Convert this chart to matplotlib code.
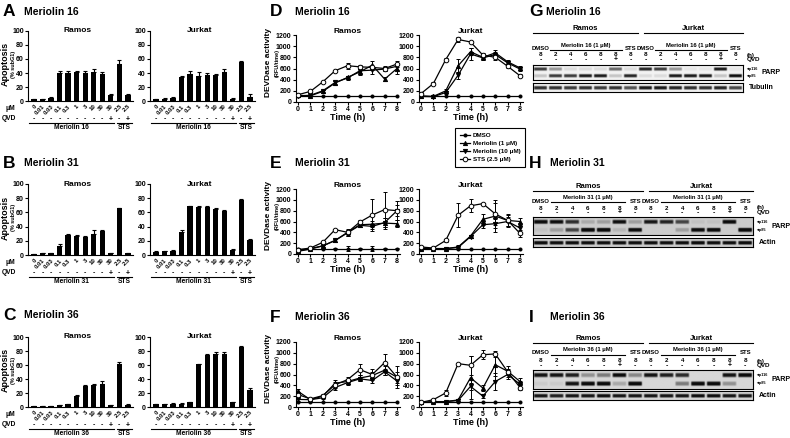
import numpy as np
import matplotlib.pyplot as plt

plt.rcParams['font.family'] = ['Liberation Sans', 'DejaVu Sans']
plt.rcParams['font.weight'] = 'bold'
plt.rcParams['axes.linewidth'] = 0.8
plt.rcParams['axes.labelweight'] = 'bold'

# ---- bar charts: apoptosis (% subG1) ----
conc = ['0', '0.01', '0.03', '0.1', '0.3', '1', '3', '10', '30', '30', '2.5', '2.5']
qvd_bar = ['-', '-', '-', '-', '-', '-', '-', '-', '-', '+', '-', '+']

ramos16 = [3, 3, 5, 39.5, 40.5, 41, 40, 41, 38.5, 9, 53, 9]
ramos16_err = [0.5, 0.5, 0.7, 3, 2.5, 2.5, 2.5, 5, 3, 1, 5, 1]
jurkat16 = [2.5, 3, 4.5, 34, 38.5, 36, 37, 37, 41, 3, 56, 5.5]
jurkat16_err = [0.7, 0.7, 1.5, 1.5, 5, 5, 3, 2, 5, 1, 1, 4]
ramos31 = [1, 2.5, 2.5, 13, 28, 27, 25.5, 29, 34, 2.5, 66, 3]
ramos31_err = [0.3, 0.5, 0.5, 2, 1, 1.5, 1, 6, 1, 0.5, 0.5, 0.5]
jurkat31 = [4.5, 5.5, 6, 33, 68.5, 68, 67, 65, 61.5, 7, 78, 21]
jurkat31_err = [0.5, 0.5, 0.5, 2.5, 1, 1.5, 1.5, 1.5, 2.5, 1.5, 1, 1]
ramos36 = [1.5, 1.5, 1, 3, 4, 16, 30, 31.5, 33, 2.5, 62, 3.5]
ramos36_err = [0.3, 0.3, 0.3, 0.5, 0.5, 1, 1, 1, 4, 0.3, 3, 1]
jurkat36 = [4.5, 4.5, 5, 5, 7, 61, 75, 75.5, 76, 6.5, 86, 25]
jurkat36_err = [0.5, 0.5, 0.5, 0.5, 0.5, 1, 1, 3, 2, 0.7, 1.5, 2]

# ---- line charts: DEVDase activity ----
hours = [0, 1, 2, 3, 4, 5, 6, 7, 8]

d_ramos_dmso = [100, 100, 100, 100, 100, 100, 100, 100, 100]
d_ramos_m1 = [120, 110, 190, 340, 440, 540, 660, 410, 600]
d_ramos_m10 = [110, 120, 200, 350, 430, 560, 570, 590, 640]
d_ramos_sts = [130, 190, 360, 560, 650, 630, 620, 600, 680]
d_ramos_m1_err = [20, 20, 20, 30, 30, 50, 80, 30, 90]
d_ramos_m10_err = [20, 20, 20, 20, 30, 40, 60, 40, 60]
d_ramos_sts_err = [20, 20, 20, 20, 50, 40, 30, 40, 50]

d_jurkat_dmso = [100, 100, 100, 100, 100, 100, 100, 100, 100]
d_jurkat_m1 = [110, 100, 200, 650, 900, 800, 880, 720, 610]
d_jurkat_m10 = [100, 95, 170, 480, 860, 790, 850, 700, 590]
d_jurkat_sts = [150, 330, 760, 1120, 1075, 840, 800, 640, 470]
d_jurkat_m1_err = [20, 20, 30, 120, 60, 40, 60, 40, 40]
d_jurkat_m10_err = [20, 20, 30, 60, 100, 40, 50, 40, 40]
d_jurkat_sts_err = [30, 20, 20, 40, 20, 30, 40, 30, 30]

e_ramos_dmso = [100, 100, 100, 100, 100, 100, 100, 100, 100]
e_ramos_dmso_err = [10, 10, 10, 10, 50, 10, 50, 10, 10]
e_ramos_m1 = [50, 90, 150, 250, 400, 540, 550, 570, 560]
e_ramos_m10 = [60, 100, 150, 250, 390, 530, 510, 580, 800]
e_ramos_sts = [80, 110, 215, 450, 400, 590, 720, 820, 800]
e_ramos_m1_err = [20, 20, 20, 20, 60, 40, 60, 100, 60]
e_ramos_m10_err = [20, 20, 20, 20, 60, 40, 40, 80, 100]
e_ramos_sts_err = [20, 20, 30, 20, 40, 30, 300, 320, 170]

e_jurkat_dmso = [100, 100, 100, 100, 100, 100, 100, 100, 100]
e_jurkat_m1 = [100, 100, 100, 130, 330, 640, 700, 620, 600]
e_jurkat_m10 = [100, 100, 100, 120, 320, 540, 560, 600, 480]
e_jurkat_sts = [130, 110, 250, 715, 890, 930, 740, 620, 380]
e_jurkat_m1_err = [20, 20, 20, 30, 30, 100, 300, 120, 60]
e_jurkat_m10_err = [20, 20, 20, 20, 30, 60, 80, 80, 100]
e_jurkat_sts_err = [20, 20, 20, 220, 120, 20, 200, 100, 60]

f_ramos_dmso = [100, 100, 100, 100, 100, 100, 100, 100, 100]
f_ramos_m1 = [290, 135, 200, 440, 470, 535, 580, 680, 550]
f_ramos_m10 = [140, 135, 170, 360, 450, 520, 490, 650, 480]
f_ramos_sts = [230, 150, 210, 410, 505, 690, 600, 820, 550]
f_ramos_m1_err = [50, 20, 30, 60, 40, 60, 60, 80, 100]
f_ramos_m10_err = [30, 20, 30, 40, 40, 40, 50, 60, 80]
f_ramos_sts_err = [50, 20, 30, 60, 40, 100, 100, 150, 200]

f_jurkat_dmso = [100, 100, 100, 100, 100, 100, 100, 100, 100]
f_jurkat_m1 = [85, 100, 100, 130, 540, 350, 780, 660, 470]
f_jurkat_m10 = [80, 95, 100, 120, 380, 200, 470, 600, 420]
f_jurkat_sts = [85, 135, 260, 800, 770, 965, 980, 650, 360]
f_jurkat_m1_err = [20, 20, 20, 20, 400, 60, 200, 100, 60]
f_jurkat_m10_err = [20, 20, 20, 20, 60, 40, 150, 80, 60]
f_jurkat_sts_err = [20, 20, 50, 20, 170, 80, 60, 60, 40]

legend_labels = ['DMSO', 'Meriolin (1 \u03bcM)', 'Meriolin (10 \u03bcM)', 'STS (2.5 \u03bcM)']

# ---- western blots: band intensity per lane (0 = none, 1 = strong) ----
blot_hours = ['8', '2', '4', '6', '8', '8', '8', '8', '2', '4', '6', '8', '8', '8']
blot_qvd = ['-', '-', '-', '-', '-', '+', '-', '-', '-', '-', '-', '-', '+', '-']

g_p116 = [0.8, 0.4, 0.1, 0.1, 0.1, 0.6, 0.1, 0.9, 0.8, 0.4, 0.05, 0.05, 0.95, 0.05]
g_p85 = [0.2, 0.8, 0.8, 0.95, 0.95, 0.2, 0.9, 0.1, 0.1, 0.95, 0.95, 0.95, 0.2, 1.0]
g_load = [0.85, 0.85, 0.8, 0.85, 0.8, 0.85, 0.7, 0.95, 0.95, 0.9, 0.85, 0.85, 0.9, 0.75]
h_p116 = [0.9, 0.85, 0.7, 0.15, 0.2, 0.85, 0.2, 0.8, 0.75, 0.6, 0.05, 0.05, 0.9, 0.0]
h_p85 = [0.05, 0.2, 0.6, 1.0, 1.0, 0.1, 0.9, 0.0, 0.0, 0.2, 0.9, 0.95, 0.0, 1.0]
h_load = [0.9, 0.85, 0.85, 0.85, 0.85, 0.85, 0.85, 0.85, 0.85, 0.85, 0.9, 0.85, 0.85, 0.9]
i_p116 = [0.85, 0.85, 0.8, 0.3, 0.4, 0.9, 0.35, 0.85, 0.8, 0.75, 0.0, 0.0, 0.85, 0.95]
i_p85 = [0.05, 0.05, 0.85, 0.95, 0.95, 0.2, 0.95, 0.0, 0.0, 0.4, 0.95, 0.95, 0.3, 0.0]
i_load = [0.85, 0.8, 0.85, 0.85, 0.9, 0.85, 0.85, 0.85, 0.85, 0.85, 0.9, 0.9, 0.85, 0.85]

W, H = 790, 438
fig = plt.figure(figsize=(7.9, 4.38), dpi=100)


def rect(x0, y0, x1, y1):
    return [x0 / W, 1 - y1 / H, (x1 - x0) / W, (y1 - y0) / H]


def put(x, y, s, **kw):
    kw.setdefault('ha', 'left')
    kw.setdefault('va', 'center')
    fig.text(x / W, 1 - y / H, s, **kw)


def style(ax, fs=5):
    ax.spines['top'].set_visible(False)
    ax.spines['right'].set_visible(False)
    ax.tick_params(direction='out', length=2, width=0.8, labelsize=fs, pad=1)


# panel letters and headings
for letter, x, y, name, nx in [('A', 3, 12, 'Meriolin 16', 24), ('B', 3, 163, 'Meriolin 31', 24),
                               ('C', 3, 315, 'Meriolin 36', 24), ('D', 270, 12, 'Meriolin 16', 295),
                               ('E', 270, 163, 'Meriolin 31', 295), ('F', 270, 317, 'Meriolin 36', 295),
                               ('G', 529, 12, 'Meriolin 16', 546), ('H', 529, 163, 'Meriolin 31', 550),
                               ('I', 529, 317, 'Meriolin 36', 550)]:
    put(x, y, letter, fontsize=12.5)
    put(nx, y, name, fontsize=7.5)

# ---- bar panels ----
bar_sets = [(ramos16, ramos16_err, jurkat16, jurkat16_err, 'Meriolin 16', 31, 101),
            (ramos31, ramos31_err, jurkat31, jurkat31_err, 'Meriolin 31', 184, 255),
            (ramos36, ramos36_err, jurkat36, jurkat36_err, 'Meriolin 36', 337, 407)]
x = np.arange(len(conc))
for r, re, j, je, comp, top, bot in bar_sets:
    for k, (vals, errs, cell, x0, x1) in enumerate([(r, re, 'Ramos', 28, 133), (j, je, 'Jurkat', 150, 255)]):
        ax = fig.add_axes(rect(x0, top, x1, bot))
        ax.bar(x, vals, width=0.62, color='black')
        ax.errorbar(x, vals, yerr=[np.zeros(len(errs)), errs], fmt='none', ecolor='black',
                    elinewidth=0.8, capsize=1.3, capthick=0.8)
        ax.set_ylim(0, 100)
        ax.set_xlim(-0.7, 11.6)
        ax.set_yticks([0, 20, 40, 60, 80, 100])
        ax.set_xticks(x)
        ax.set_xticklabels(conc, rotation=45, ha='right', rotation_mode='anchor')
        style(ax)
        ax.tick_params(axis='x', length=0, labelsize=4.3, pad=2)
        ax.text(0.47, 1.0, cell, transform=ax.transAxes, ha='center', va='center', fontsize=6)
        tr = ax.get_xaxis_transform()
        hpx = bot - top
        for xi, s in zip(x, qvd_bar):
            ax.text(xi, -18 / hpx, s, transform=tr, ha='center', va='center', fontsize=5, clip_on=False)
        ax.plot([-0.6, 9.4], [-21.5 / hpx] * 2, transform=tr, color='black', lw=0.8, clip_on=False)
        ax.plot([9.7, 11.5], [-21.5 / hpx] * 2, transform=tr, color='black', lw=0.8, clip_on=False)
        ax.text(4.4, -26.5 / hpx, comp, transform=tr, ha='center', va='center', fontsize=4.8, clip_on=False)
        ax.text(10.6, -26.5 / hpx, 'STS', transform=tr, ha='center', va='center', fontsize=4.8, clip_on=False)
        if k == 0:
            put(2, bot + 18, 'QVD', fontsize=4.8)
            put(5, bot + 7, '\u03bcM', fontsize=4.8)
            put(5, (top + bot) / 2 - 2, 'Apoptosis', fontsize=6.5, rotation=90, ha='center')
            put(13, (top + bot) / 2 - 2, '(% subG1)', fontsize=4, rotation=90, ha='center')

# ---- line panels ----
line_sets = [
    ('Ramos', 35, 102, 295.5, 399.5, d_ramos_dmso, None, d_ramos_m1, d_ramos_m1_err, d_ramos_m10, d_ramos_m10_err, d_ramos_sts, d_ramos_sts_err),
    ('Jurkat', 35, 102, 418.5, 522.5, d_jurkat_dmso, None, d_jurkat_m1, d_jurkat_m1_err, d_jurkat_m10, d_jurkat_m10_err, d_jurkat_sts, d_jurkat_sts_err),
    ('Ramos', 189, 254, 295.5, 399.5, e_ramos_dmso, e_ramos_dmso_err, e_ramos_m1, e_ramos_m1_err, e_ramos_m10, e_ramos_m10_err, e_ramos_sts, e_ramos_sts_err),
    ('Jurkat', 189, 254, 418.5, 522.5, e_jurkat_dmso, None, e_jurkat_m1, e_jurkat_m1_err, e_jurkat_m10, e_jurkat_m10_err, e_jurkat_sts, e_jurkat_sts_err),
    ('Ramos', 342, 407, 295.5, 399.5, f_ramos_dmso, None, f_ramos_m1, f_ramos_m1_err, f_ramos_m10, f_ramos_m10_err, f_ramos_sts, f_ramos_sts_err),
    ('Jurkat', 342, 407, 418.5, 522.5, f_jurkat_dmso, None, f_jurkat_m1, f_jurkat_m1_err, f_jurkat_m10, f_jurkat_m10_err, f_jurkat_sts, f_jurkat_sts_err),
]
markers = [('o', 'black', 2.2), ('^', 'black', 3), ('v', 'black', 3), ('o', 'white', 3.3)]
handles = None
for cell, top, bot, x0, x1, dm, dme, m1, m1e, m10, m10e, sts, stse in line_sets:
    ax = fig.add_axes(rect(x0, top, x1, bot))
    hs = []
    for (mk, fc, ms), vals, errs in zip(markers, [dm, m1, m10, sts], [dme, m1e, m10e, stse]):
        if errs is not None:
            ax.errorbar(hours, vals, yerr=errs, fmt='none', ecolor='black', elinewidth=0.7,
                        capsize=1.3, capthick=0.7, zorder=2)
        h, = ax.plot(hours, vals, color='black', lw=0.9, marker=mk, mfc=fc, mec='black',
                     ms=ms, mew=0.7, zorder=3)
        hs.append(h)
    handles = hs
    ax.set_xlim(-0.2, 8.2)
    ax.set_ylim(0, 1200)
    ax.set_xticks(hours)
    ax.set_yticks([0, 200, 400, 600, 800, 1000, 1200])
    style(ax)
    ax.set_xlabel('Time (h)', fontsize=6.5, labelpad=0)
    ax.text(0.5, 1.0, cell, transform=ax.transAxes, ha='center', va='bottom', fontsize=6)
    if cell == 'Ramos':
        put(268, (top + bot) / 2 - 6, 'DEVDase activity', fontsize=6, rotation=90, ha='center')
        put(277, (top + bot) / 2 - 6, '(RFU/time)', fontsize=4, rotation=90, ha='center')

fig.legend(handles, legend_labels, loc='upper left', bbox_to_anchor=(452 / W, 1 - 125 / H),
           fontsize=4.5, frameon=True, fancybox=False, edgecolor='black', framealpha=1,
           handlelength=1.6, labelspacing=0.45, borderpad=0.7, handletextpad=0.5).get_frame().set_linewidth(0.8)


# ---- blot panels ----
def blot_img(bands, bg, h=30, lw=24, sig=0.11):
    n = len(bands[0][1])
    yy = np.arange(h)[:, None]
    xx = np.arange(lw)[None, :]
    mask = np.clip(np.minimum(xx, lw - 1 - xx) / 2.5, 0, 1)
    img = np.full((h, n * lw), bg)
    for pos, vals in bands:
        prof = np.exp(-((yy - pos * h) / (h * sig)) ** 4)
        for i, v in enumerate(vals):
            img[:, i * lw:(i + 1) * lw] -= 0.9 * v * prof * mask
    return np.clip(img, 0.05, 1)


blots = [('Meriolin 16', 29, 533, 743, g_p116, g_p85, g_load, 'Tubulin', 0.95,
          [4, 19, 26, 31, 36, 51, 54, 63]),
         ('Meriolin 31', 187, 533, 753, h_p116, h_p85, h_load, 'Actin', 0.8,
          [4, 14, 21, 26, 30, 48, 51, 60]),
         ('Meriolin 36', 338, 533, 753, i_p116, i_p85, i_load, 'Actin', 0.84,
          [5, 15, 23, 28, 32, 51, 53, 62])]
for comp, yt, x0, x1, p116, p85, load, lname, bg, off in blots:
    lw_px = (x1 - x0) / 14

    def lx(i):
        return x0 + lw_px * (i + 0.5)

    ln, rw, hr, qv, pt, pb, lt, lb = [yt + o for o in off]
    put((x0 + lx(6) + lw_px / 2) / 2, yt, 'Ramos', fontsize=5.5, ha='center')
    put((lx(7) - lw_px / 2 + 6 + x1) / 2, yt, 'Jurkat', fontsize=5.5, ha='center')
    fig.add_artist(plt.Line2D([x0 / W, (lx(6) + lw_px / 2) / W], [1 - ln / H] * 2, color='black', lw=0.8))
    fig.add_artist(plt.Line2D([(lx(7) - lw_px / 2 + 6) / W, x1 / W], [1 - ln / H] * 2, color='black', lw=0.8))
    for base in (0, 7):
        put(lx(base), rw, 'DMSO', fontsize=4.3, ha='center')
        put(lx(base + 6), rw, 'STS', fontsize=4.3, ha='center')
        put(lx(base + 3), rw - 3, comp + ' (1 \u03bcM)', fontsize=4.2, ha='center')
        fig.add_artist(plt.Line2D([(lx(base + 1) - 6) / W, (lx(base + 5) + 6) / W], [1 - (rw + 1.5) / H] * 2,
                                  color='black', lw=0.8))
    for i in range(14):
        put(lx(i), hr, blot_hours[i], fontsize=4.5, ha='center')
        put(lx(i), qv, blot_qvd[i], fontsize=5, ha='center')
    put(x1 + 4, hr, '(h)', fontsize=4.5)
    put(x1 + 4, qv, 'QVD', fontsize=4.5)

    ax = fig.add_axes(rect(x0, pt, x1, pb))
    ax.imshow(blot_img([(0.25, p116), (0.7, p85)], bg), cmap='gray', vmin=0, vmax=1,
              aspect='auto', interpolation='bilinear')
    ax.set_xticks([])
    ax.set_yticks([])
    ax2 = fig.add_axes(rect(x0, lt, x1, lb))
    ax2.imshow(blot_img([(0.5, load)], bg, h=16, sig=0.2), cmap='gray', vmin=0, vmax=1,
               aspect='auto', interpolation='bilinear')
    ax2.set_xticks([])
    ax2.set_yticks([])
    put(x1 + 2, pt + (pb - pt) * 0.25, '\u25c4p116', fontsize=2.8)
    put(x1 + 2, pt + (pb - pt) * 0.7, '\u25c4p85', fontsize=2.8)
    put(x1 + 19, (pt + pb) / 2, 'PARP', fontsize=5)
    put(x1 + 6, (lt + lb) / 2, lname, fontsize=5)

fig.savefig('out.png', dpi=100)
